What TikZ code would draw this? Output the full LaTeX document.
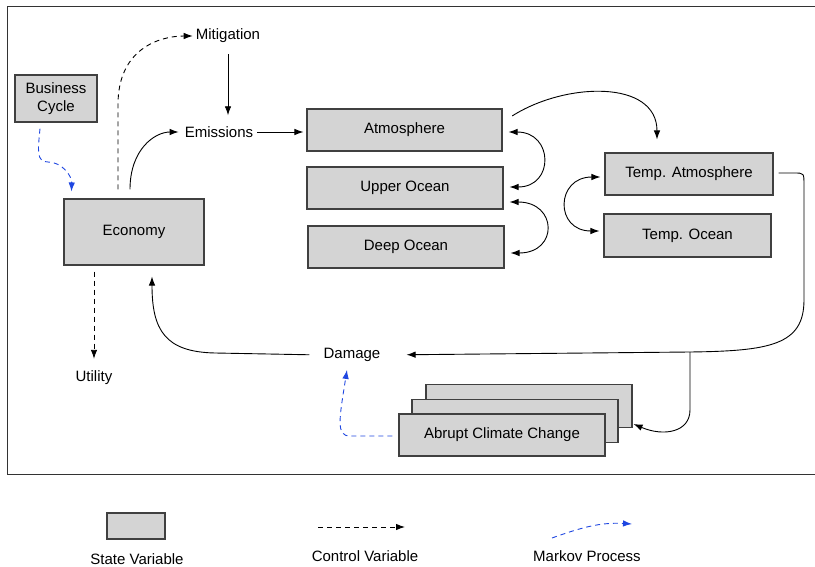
\documentclass[tikz,border=0pt]{standalone}
\usepackage{fontspec}
\setmainfont{Liberation Sans}
\usetikzlibrary{arrows.meta}
\definecolor{boxfill}{RGB}{212,212,212}
\definecolor{mblue}{RGB}{30,70,225}
\begin{document}
\begin{tikzpicture}[x=1pt,y=-1pt,
  every node/.style={font=\fontsize{15}{17}\selectfont, inner sep=2pt},
  box/.style={draw=black!75, fill=boxfill, line width=1.1pt},
  arr/.style={-{Latex[length=9pt,width=6.5pt]}, line width=0.9pt},
  dbl/.style={{Latex[length=9pt,width=6.5pt]}-{Latex[length=9pt,width=6.5pt]}, line width=0.9pt},
  ctrl/.style={arr, dash pattern=on 5pt off 4pt},
  markov/.style={arr, mblue, draw=mblue, dash pattern=on 5pt off 4pt}]
\useasboundingbox (0,0) rectangle (815,567);
\draw[line width=1pt, black!80] (7,7) rectangle (820,474);

% state boxes
\node[box, minimum width=82pt, minimum height=47pt, align=center, font=\fontsize{15}{18}\selectfont] (bc) at (56,98.5) {Business\\Cycle};
\node[box, minimum width=140pt, minimum height=66pt] (econ) at (134,232) {Economy};
\node[box, minimum width=195pt, minimum height=42pt] (atm) at (404.5,130) {Atmosphere};
\node[box, minimum width=196pt, minimum height=42pt] (upper) at (405,188) {Upper Ocean};
\node[box, minimum width=196pt, minimum height=42pt] (deep) at (406,247) {Deep Ocean};
\node[box, minimum width=168pt, minimum height=42pt] (tatm) at (689,174) {Temp. Atmosphere};
\node[box, minimum width=167pt, minimum height=43pt] (tocean) at (687.5,235.5) {Temp. Ocean};
\node[box, minimum width=206pt, minimum height=43pt] (acc3) at (529,406) {};
\node[box, minimum width=206pt, minimum height=43pt] (acc2) at (515,421) {};
\node[box, minimum width=206pt, minimum height=42pt] (acc) at (502,435) {Abrupt Climate Change};

% plain labels
\node (mit) at (228,36) {Mitigation};
\node (emis) at (219,132) {Emissions};
\node (dmg) at (352,355) {Damage};
\node (util) at (94,378) {Utility};

% connectors
\draw[arr, shorten <=2pt, shorten >=3pt] (emis.east) -- (emis.east -| atm.west);
\draw[arr, shorten <=9pt, shorten >=9pt] (mit.south) -- (mit.south |- emis.north);
\draw[arr, shorten >=4pt] ([xshift=-4pt,yshift=9pt]econ.north) .. controls +(0,-40) and +(-28,0) .. (emis.west);
\draw[ctrl, shorten >=1pt] ([xshift=-16pt,yshift=9pt]econ.north) -- ++(0,-85) .. controls +(0,-55) and +(-35,0) .. (mit.west);
\draw[arr, shorten <=2pt] ([xshift=8pt,yshift=13pt]atm.east) .. controls +(55,-35) and +(0,-60) .. ([xshift=-32pt,yshift=13pt]tatm.north);
\draw[dbl] ([xshift=6pt,yshift=-2pt]atm.east) .. controls +(45,0) and +(45,0) .. ([xshift=6pt,yshift=1pt]upper.east);
\draw[dbl] ([xshift=6pt,yshift=-14pt]upper.east) .. controls +(48,0) and +(48,0) .. ([xshift=6pt,yshift=-6pt]deep.east);
\draw[dbl] ([xshift=-4pt,yshift=-3pt]tatm.west) .. controls +(-45,0) and +(-45,0) .. ([xshift=-4pt,yshift=4.5pt]tocean.west);
\coordinate (split) at (690,352);
\draw[arr, shorten >=24pt] ([xshift=5pt,yshift=1pt]tatm.east) -- (794,173) .. controls (804,173) .. (804,185) -- (804,300)
   .. controls (804,345) and (770,351) .. (split) -- (dmg.east);
\draw[arr] (split) -- (690,410) .. controls (690,432) and (664,437) .. ([xshift=15pt,yshift=-3pt]acc2.east);
\draw[arr, shorten <=12pt, shorten >=11pt] (dmg.west) -- (215,353) .. controls (165,352) and (152,330) .. (econ.south -| 152,0);
\draw[ctrl, shorten >=10pt] ([xshift=-40pt,yshift=-6pt]econ.south) -- (util.north);
\draw[markov] ([xshift=-16pt,yshift=-6pt]bc.south) .. controls (38,150) and (36,162) .. (48,162) .. controls (62,162) and (72,176) .. ([xshift=8pt,yshift=7pt]econ.north west);
\draw[markov] ([xshift=-6pt,yshift=-1pt]acc.west) -- (350,436) .. controls (336,436) and (339,420) .. ([xshift=-5pt,yshift=-6pt]dmg.south);

% legend
\node[box, minimum width=58pt, minimum height=26pt] (lgbox) at (136,526) {};
\node (lgs) at (137,559) {State Variable};
\coordinate (c1) at (318,527);
\coordinate (c2) at (405,527);
\draw[ctrl] (c1) -- (c2);
\node (lgc) at (365,556) {Control Variable};
\coordinate (m1) at (552,538);
\coordinate (m2) at (632,524);
\draw[markov] (m1) .. controls (580,528) and (600,522) .. (m2);
\node (lgm) at (587,556) {Markov Process};
\end{tikzpicture}
\end{document}
